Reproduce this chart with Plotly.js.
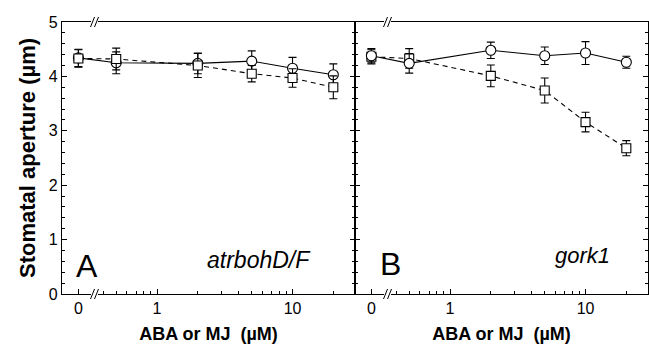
<!DOCTYPE html>
<html><head><meta charset="utf-8">
<script src="https://cdn.plot.ly/plotly-3.0.1.min.js"></script>
<style>html,body{margin:0;padding:0;background:#fff}#chart{width:649px;height:344px}</style>
</head><body><div id="chart"></div>
<script>
// ---- data ----
const doses = [0, 0.5, 2, 5, 10, 20];            // µM
const majorTickDoses = [0, 1, 10];
const majorTickLabels = ['0', '1', '10'];
const minorTickDoses = [0.4, 0.5, 0.6, 0.7, 0.8, 0.9, 2, 3, 4, 5, 6, 7, 8, 9, 20];
const yTicks = [0, 1, 2, 3, 4, 5];

const panelLabels = ['A', 'B'];
const genotypes = ['atrbohD/F', 'gork1'];

const aCircle    = [4.34, 4.25, 4.24, 4.28, 4.15, 4.03];
const aCircleErr = [0.16, 0.20, 0.19, 0.19, 0.20, 0.20];
const aSquare    = [4.33, 4.32, 4.20, 4.05, 3.97, 3.80];
const aSquareErr = [0.16, 0.20, 0.22, 0.15, 0.17, 0.21];

const bCircle    = [4.38, 4.24, 4.48, 4.38, 4.43, 4.26];
const bCircleErr = [0.13, 0.18, 0.15, 0.16, 0.21, 0.11];
const bSquare    = [4.36, 4.33, 4.01, 3.74, 3.16, 2.68];
const bSquareErr = [0.13, 0.18, 0.20, 0.23, 0.18, 0.14];

// ---- broken log axis: dose 0 is shown left of the axis break ----
const ZERO_POS = 0.263;          // place of the "0" dose on the log axis
const LOG_RANGE = [-0.701, 1.461];
const BREAK_FRAC = 0.111;        // break position as fraction of panel width
const toAxis = d => (d === 0 ? ZERO_POS : d);
const xs = doses.map(toAxis);

const FONT = 'Liberation Sans, Arial, Helvetica, sans-serif';
const PW = 293, PH = 272;        // panel size in px

function series(x, y, err, kind, xa, ya) {
  const circle = kind === 'circle';
  return {
    type: 'scatter', mode: 'lines+markers', x: x, y: y,
    xaxis: xa, yaxis: ya, showlegend: false, cliponaxis: false,
    line: {color: '#000', width: 1.1, dash: circle ? 'solid' : '5px,4px'},
    marker: {symbol: circle ? 'circle' : 'square', size: circle ? 10 : 9,
             color: '#fff', line: {width: 1.1, color: '#000'}},
    error_y: {type: 'data', array: err, visible: true, color: '#000', thickness: 1.1, width: 4}
  };
}

const data = [
  // panel A: squares on top
  series(xs, aCircle, aCircleErr, 'circle', 'x', 'y'),
  series(xs, aSquare, aSquareErr, 'square', 'x', 'y'),
  // panel B: circles on top
  series(xs, bSquare, bSquareErr, 'square', 'x2', 'y2'),
  series(xs, bCircle, bCircleErr, 'circle', 'x2', 'y2')
];

function xAxis(domain, anchor) {
  return {
    type: 'log', domain: domain, anchor: anchor, range: LOG_RANGE,
    showline: true, linecolor: '#000', linewidth: 1.1, mirror: true,
    showgrid: false, zeroline: false,
    ticks: 'inside', ticklen: 5, tickwidth: 1, tickcolor: '#000',
    tickmode: 'array', tickvals: majorTickDoses.map(toAxis), ticktext: majorTickLabels,
    tickfont: {family: FONT, size: 16, color: '#000'},
    minor: {tickmode: 'array', tickvals: minorTickDoses, ticks: 'inside', ticklen: 3,
            tickwidth: 1, tickcolor: '#000', showgrid: false},
    title: {text: '<b>ABA or MJ  (µM)</b>', font: {family: FONT, size: 18, color: '#000'}, standoff: 12}
  };
}
function yAxis(anchor, labels) {
  const ax = {
    domain: [0, 1], anchor: anchor, range: [0, 5],
    showline: true, linecolor: '#000', linewidth: 1.1, mirror: 'ticks',
    showgrid: false, zeroline: false,
    ticks: 'inside', ticklen: 5, tickwidth: 1, tickcolor: '#000',
    tickmode: 'array', tickvals: yTicks, showticklabels: labels,
    tickfont: {family: FONT, size: 16, color: '#000'},
    minor: {dtick: 0.2, ticks: 'inside', ticklen: 3, tickwidth: 1, tickcolor: '#000', showgrid: false}
  };
  if (labels) ax.title = {text: '<b>Stomatal aperture (µm)</b>', font: {family: FONT, size: 22, color: '#000'}, standoff: 7};
  return ax;
}

// axis-break marks "//" on top and bottom lines of each panel
const shapes = [];
['x', 'x2'].forEach(xa => {
  [0, 1].forEach(yy => {
    shapes.push({type: 'line', xref: xa + ' domain', yref: 'y domain',
      x0: BREAK_FRAC - 3.5 / PW, x1: BREAK_FRAC + 3.5 / PW, y0: yy, y1: yy,
      line: {color: '#fff', width: 3}});
    [-2, 2].forEach(off => {
      shapes.push({type: 'line', xref: xa + ' domain', yref: 'y domain',
        x0: BREAK_FRAC + (off - 2) / PW, x1: BREAK_FRAC + (off + 2) / PW,
        y0: yy - 5 / PH, y1: yy + 5 / PH,
        line: {color: '#000', width: 1}});
    });
  });
});

const annotations = [
  {xref: 'x domain', yref: 'y domain', x: 0.087, y: 0.103, text: panelLabels[0], showarrow: false,
   xanchor: 'center', yanchor: 'middle', font: {family: FONT, size: 32, color: '#000'}},
  {xref: 'x2 domain', yref: 'y2 domain', x: 0.121, y: 0.11, text: panelLabels[1], showarrow: false,
   xanchor: 'center', yanchor: 'middle', font: {family: FONT, size: 32, color: '#000'}},
  {xref: 'x domain', yref: 'y domain', x: 0.671, y: 0.125, text: '<i>' + genotypes[0] + '</i>', showarrow: false,
   xanchor: 'center', yanchor: 'middle', font: {family: FONT, size: 23, color: '#000'}},
  {xref: 'x2 domain', yref: 'y2 domain', x: 0.778, y: 0.14, text: '<i>' + genotypes[1] + '</i>', showarrow: false,
   xanchor: 'center', yanchor: 'middle', font: {family: FONT, size: 22, color: '#000'}}
];

const layout = {
  width: 649, height: 344,
  margin: {l: 62, r: 1, t: 22, b: 50, pad: 0},
  paper_bgcolor: '#fff', plot_bgcolor: '#fff',
  font: {family: FONT, color: '#000'},
  xaxis: xAxis([0, 0.5], 'y'),
  xaxis2: xAxis([0.5, 1], 'y2'),
  yaxis: yAxis('x', true),
  yaxis2: yAxis('x2', false),
  shapes: shapes,
  annotations: annotations
};

Plotly.newPlot('chart', data, layout, {staticPlot: true, displayModeBar: false});
</script>
</body></html>
